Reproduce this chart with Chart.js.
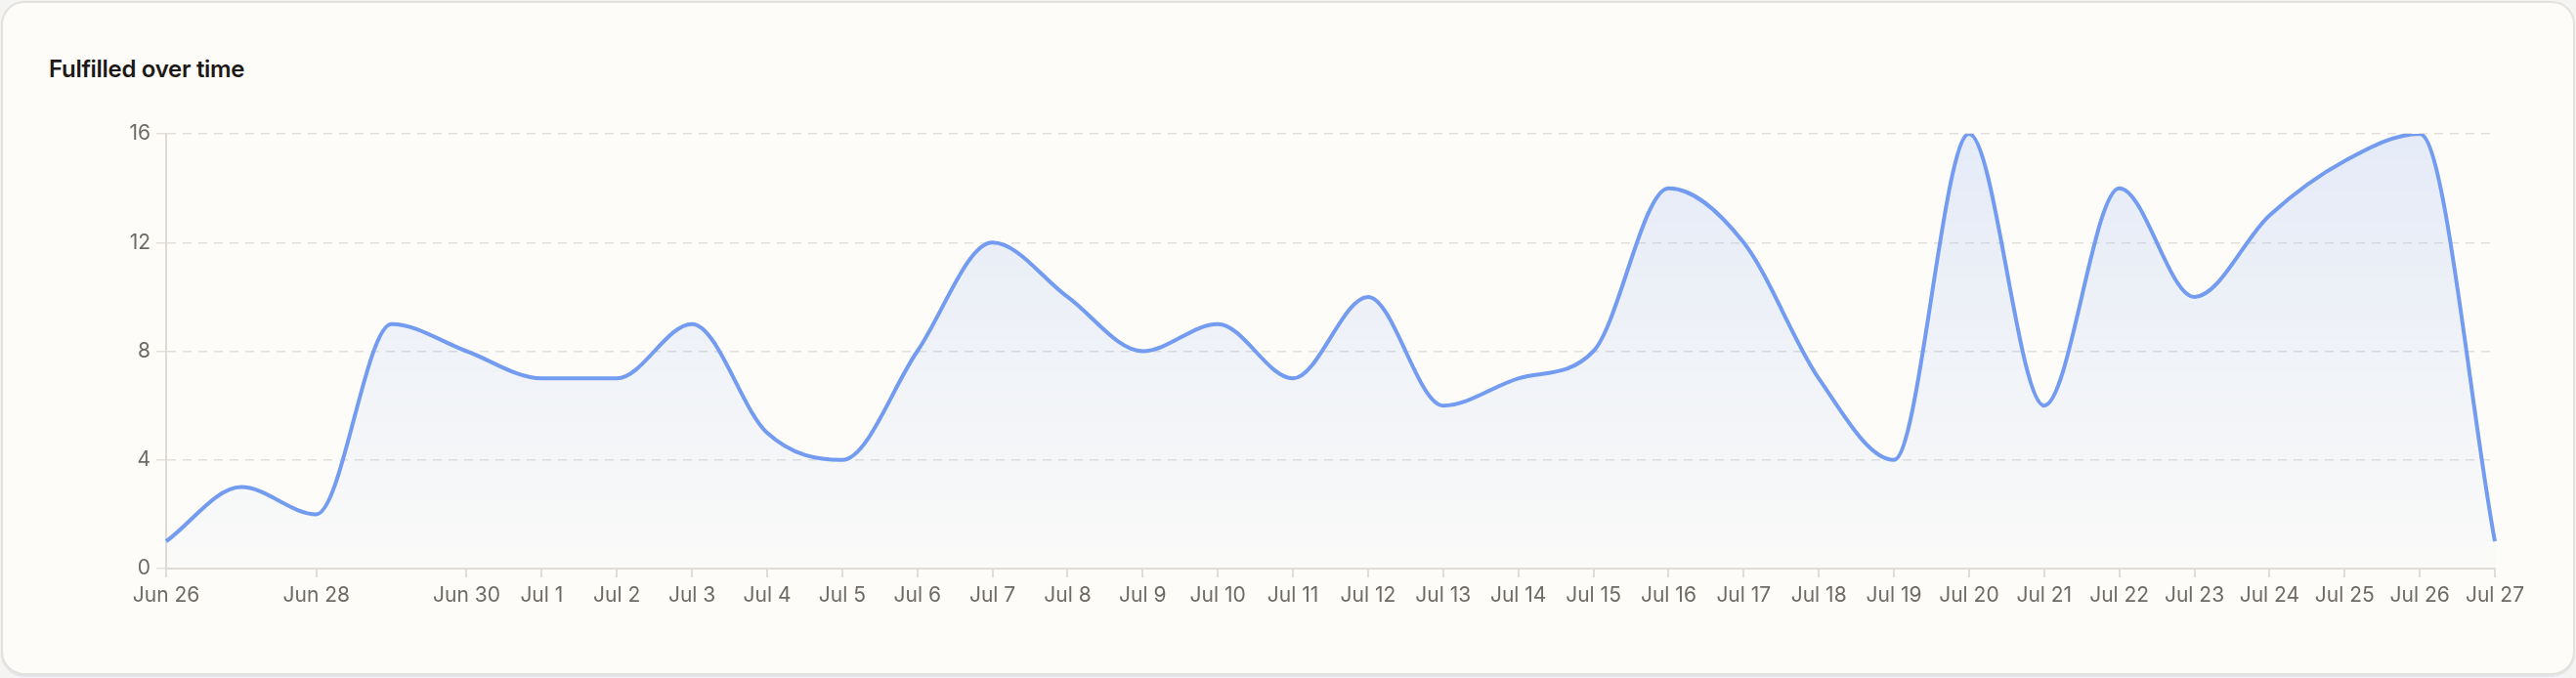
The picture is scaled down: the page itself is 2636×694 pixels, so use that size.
<!DOCTYPE html>
<html>
<head>
<meta charset="utf-8">
<style>
  html, body { margin: 0; padding: 0; background: #f4f4f2; }
  body { width: 2636px; height: 694px; position: relative; overflow: hidden; font-family: Inter, "Noto Sans", sans-serif; }
  .card {
    position: absolute; left: 1px; top: 1px; width: 2630px; height: 686px;
    background: #fdfcf9; border: 2px solid #e3e1dd; border-radius: 24px;
    box-shadow: 0 2px 0 #e6e6ea;
  }
  .title {
    position: absolute; left: 50px; top: 56px;
    font-size: 24px; font-weight: 600; color: #1c1917; letter-spacing: -0.3px;
  }
  #chart { position: absolute; left: 0; top: 0; }
</style>
</head>
<body>
<div class="card"></div>
<div class="title">Fulfilled over time</div>
<canvas id="chart" width="2636" height="694"></canvas>
<script src="https://cdn.jsdelivr.net/npm/chart.js@4.4.1/dist/chart.umd.min.js"></script>
<script>
// Daily fulfilled counts, Jun 26 - Jul 27
const days = [
  'Jun 26', 'Jun 27', 'Jun 28', 'Jun 29', 'Jun 30', 'Jul 1', 'Jul 2', 'Jul 3',
  'Jul 4', 'Jul 5', 'Jul 6', 'Jul 7', 'Jul 8', 'Jul 9', 'Jul 10', 'Jul 11',
  'Jul 12', 'Jul 13', 'Jul 14', 'Jul 15', 'Jul 16', 'Jul 17', 'Jul 18', 'Jul 19',
  'Jul 20', 'Jul 21', 'Jul 22', 'Jul 23', 'Jul 24', 'Jul 25', 'Jul 26', 'Jul 27',
];
const fulfilled = [
  1, 3, 2, 9, 8, 7, 7, 9,
  5, 4, 8, 12, 10, 8, 9, 7,
  10, 6, 7, 8, 14, 12, 7, 4,
  16, 6, 14, 10, 13, 15, 16, 1,
];
// labels the x axis actually shows (Jun 27 / Jun 29 are skipped)
const shownDays = days.filter((d) => d !== 'Jun 27' && d !== 'Jun 29');
const yTicks = [0, 4, 8, 12, 16];

const tickFont = { family: 'Inter', size: 21 };
const tickColor = '#6e6a65';
const lineColor = '#739cf0';

const ctx = document.getElementById('chart').getContext('2d');

function areaFill(context) {
  const area = context.chart.chartArea;
  if (!area) return 'rgba(118, 158, 240, 0.1)';
  const g = context.chart.ctx.createLinearGradient(0, area.top, 0, area.bottom);
  g.addColorStop(0, 'rgba(118, 158, 240, 0.18)');
  g.addColorStop(1, 'rgba(118, 158, 240, 0.02)');
  return g;
}

new Chart(ctx, {
  type: 'line',
  data: {
    labels: days,
    datasets: [
      {
        label: 'Fulfilled',
        data: fulfilled,
        borderColor: lineColor,
        backgroundColor: areaFill,
        borderWidth: 4,
        fill: 'origin',
        cubicInterpolationMode: 'monotone',
        pointRadius: 0,
        pointHoverRadius: 0,
      },
    ],
  },
  options: {
    responsive: false,
    animation: false,
    layout: {
      padding: { left: 60, right: 83, top: 137, bottom: 0 },
    },
    plugins: {
      legend: { display: false },
      title: { display: false },
      tooltip: { enabled: false },
    },
    scales: {
      x: {
        type: 'category',
        offset: false,
        afterBuildTicks: (axis) => {
          axis.ticks = axis.ticks.filter((t) => shownDays.includes(days[t.value]));
        },
        afterFit: (axis) => {
          axis.height = 112;
        },
        grid: {
          drawOnChartArea: false,
          drawTicks: true,
          tickLength: 9,
          color: '#e0ddd9',
          lineWidth: 2,
        },
        border: { display: true, color: '#e0ddd9', width: 2 },
        ticks: {
          autoSkip: false,
          maxRotation: 0,
          padding: 6,
          color: tickColor,
          font: tickFont,
        },
      },
      y: {
        min: 0,
        max: 16,
        afterBuildTicks: (axis) => {
          axis.ticks = yTicks.map((v) => ({ value: v }));
        },
        afterFit: (axis) => {
          axis.width = 110;
        },
        grid: {
          color: '#e2dfdb',
          lineWidth: 1.5,
          drawTicks: true,
          tickLength: 10,
          tickBorderDash: [0],
        },
        border: { display: true, color: '#dedbd7', width: 2, dash: [9, 7] },
        ticks: {
          padding: 6,
          color: tickColor,
          font: tickFont,
        },
      },
    },
  },
});
</script>
</body>
</html>
